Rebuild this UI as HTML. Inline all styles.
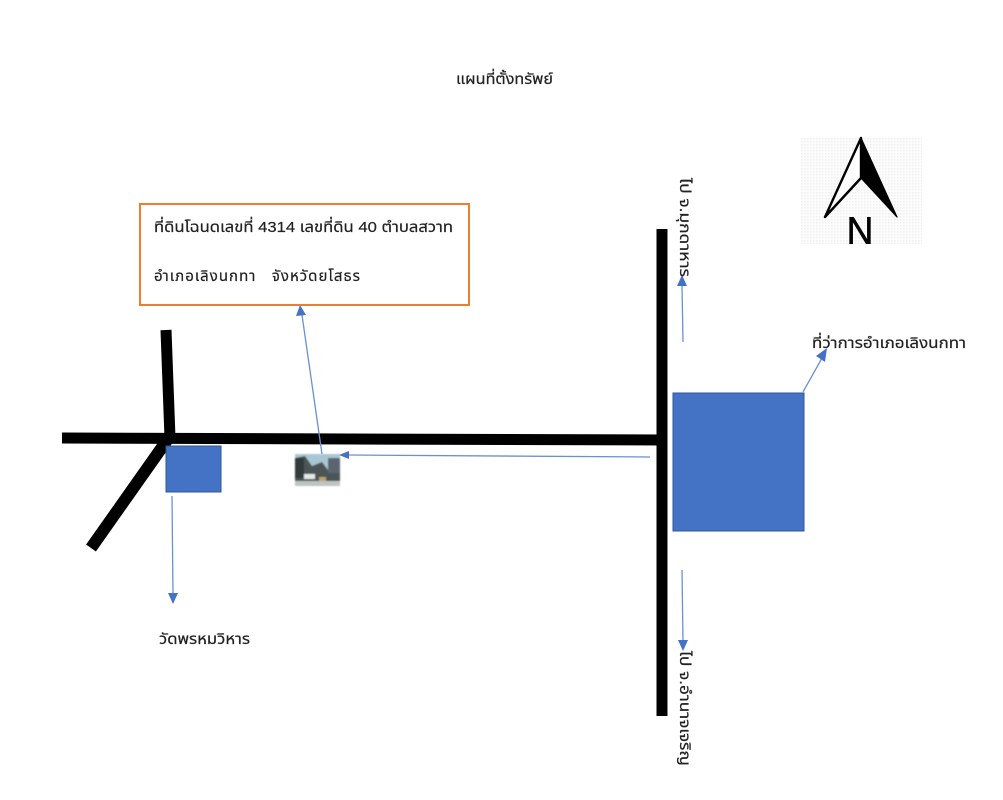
<!DOCTYPE html>
<html lang="th">
<head>
<meta charset="utf-8">
<title>แผนที่ตั้งทรัพย์</title>
<style>
html,body{margin:0;padding:0;background:#fff;width:1003px;height:800px;overflow:hidden}
svg{display:block}
text{font-family:"Liberation Sans","Noto Sans Thai","Noto Sans CJK SC",sans-serif;font-size:15px;fill:#222;stroke:#222;stroke-width:.2px}
</style>
</head>
<body>
<svg width="1003" height="800" viewBox="0 0 1003 800" xmlns="http://www.w3.org/2000/svg">
<defs>
<pattern id="dots" width="3" height="3" patternUnits="userSpaceOnUse">
<rect width="3" height="3" fill="#fcfcfc"/>
<rect width="1.5" height="1.5" fill="#efefef"/>
</pattern>
<filter id="soft" x="-5%" y="-5%" width="110%" height="110%"><feGaussianBlur stdDeviation="0.7"/></filter>
<clipPath id="nclip"><rect x="840" y="210" width="40" height="34"/></clipPath>
</defs>
<rect width="1003" height="800" fill="#fff"/>

<text x="456" y="84" textLength="97" lengthAdjust="spacingAndGlyphs">แผนที่ตั้งทรัพย์</text>

<rect x="140" y="204" width="329" height="101" fill="#fff" stroke="#ed7d31" stroke-width="2"/>
<text x="154" y="232" textLength="299" lengthAdjust="spacingAndGlyphs">ที่ดินโฉนดเลขที่ 4314 เลขที่ดิน 40 ตำบลสวาท</text>
<text x="154" y="281" textLength="206" lengthAdjust="spacing" xml:space="preserve">อำเภอเลิงนกทา   จังหวัดยโสธร</text>

<rect x="801" y="137" width="121" height="107" fill="url(#dots)"/>
<path d="M861,138 L825,217 L861,178 Z" fill="#fff" stroke="#000" stroke-width="2.4" stroke-linejoin="round"/>
<path d="M861,138 L861,178 L897,217 Z" fill="#000" stroke="#000" stroke-width="1.2" stroke-linejoin="round"/>
<g clip-path="url(#nclip)">
<text x="846.5" y="244" style="font-size:39px;fill:#000;stroke:#000;stroke-width:.5px" textLength="27" lengthAdjust="spacingAndGlyphs">N</text>
</g>

<g fill="none" stroke="#000" stroke-linecap="butt">
<line x1="62" y1="438" x2="662" y2="440" stroke-width="11"/>
<line x1="166" y1="330" x2="170" y2="438" stroke-width="11"/>
<line x1="170" y1="436" x2="91" y2="548" stroke-width="12"/>
<line x1="662" y1="229" x2="662" y2="716" stroke-width="11"/>
</g>

<rect x="166" y="446" width="55" height="46" fill="#4472c4" stroke="#2f5597" stroke-width="1"/>
<rect x="673" y="393" width="131" height="138" fill="#4472c4" stroke="#2f5597" stroke-width="1"/>

<g filter="url(#soft)">
<rect x="295" y="454" width="45" height="32" fill="#c9d3d8"/>
<rect x="295" y="454" width="45" height="15" fill="#a9c6d4"/>
<polygon points="295,458 305,456 312,466 322,462 328,470 340,458 340,481 295,481" fill="#4c5555"/>
<rect x="295" y="458" width="9" height="20" fill="#333b3a"/>
<rect x="328" y="458" width="12" height="15" fill="#5a6570"/>
<rect x="304" y="474" width="11" height="5" fill="#e4e8e8"/>
<rect x="319" y="477" width="7" height="4" fill="#b9a36a"/>
<rect x="295" y="481" width="45" height="5" fill="#bfc3c2"/>
</g>

<g stroke="#6b90d2" stroke-width="1.3" fill="none">
<line x1="322" y1="454" x2="302" y2="315"/>
<line x1="650" y1="457" x2="348" y2="455"/>
<line x1="172" y1="496" x2="173" y2="595"/>
<line x1="683" y1="342" x2="682" y2="285"/>
<line x1="682" y1="570" x2="683" y2="642"/>
<line x1="803" y1="392" x2="822" y2="358"/>
</g>
<g fill="#4472c4">
<polygon points="300,305 296,316 306,315"/>
<polygon points="339,455 349,451 349,459"/>
<polygon points="173,604 168,593 178,593"/>
<polygon points="682,275 677,286 687,286"/>
<polygon points="683,651 678,640 688,640"/>
<polygon points="827,348 816,356 825,362"/>
</g>

<text x="812" y="348" textLength="154" lengthAdjust="spacingAndGlyphs">ที่ว่าการอำเภอเลิงนกทา</text>
<text x="159" y="644" textLength="91" lengthAdjust="spacingAndGlyphs">วัดพรหมวิหาร</text>
<text transform="translate(680,178) rotate(90)" textLength="99" lengthAdjust="spacingAndGlyphs">ไป จ.มุกดาหาร</text>
<text transform="translate(680,651) rotate(90)" textLength="115" lengthAdjust="spacingAndGlyphs">ไป จ.อำนาจเจริญ</text>
</svg>
</body>
</html>
